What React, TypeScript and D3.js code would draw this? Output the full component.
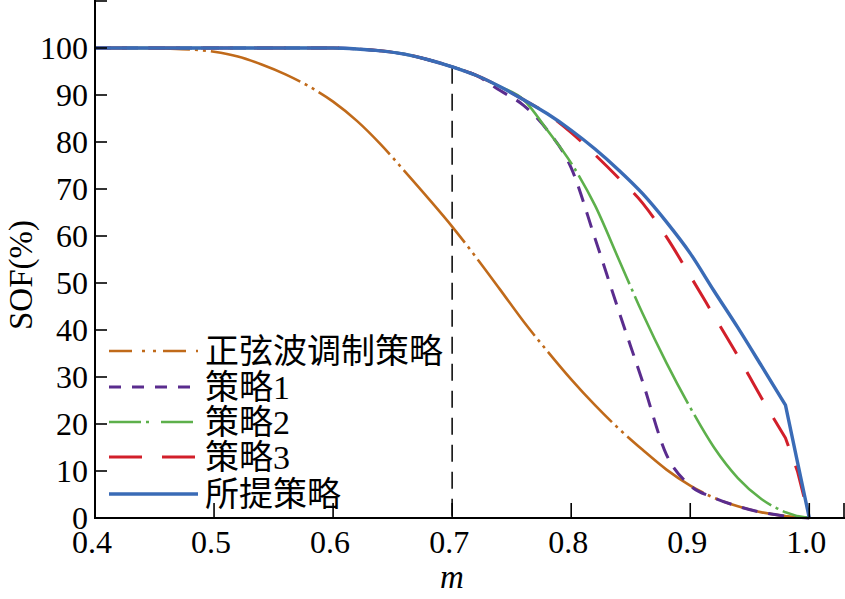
import React from "react";
import * as d3 from "d3";

const mValues = [0.40,0.42,0.44,0.46,0.48,0.50,0.52,0.54,0.56,0.58,0.60,0.62,0.64,0.66,0.68,0.70,0.72,0.74,0.76,0.78,0.80,0.82,0.84,0.86,0.88,0.90,0.92,0.94,0.96,0.98,0.99,1.00];

const sineSOF = [100,100,100,99.9,99.7,99.2,98.2,96.5,94.4,91.8,88.6,84.5,79.5,73.8,68,62,55.5,48.7,41.8,35.5,29.5,24,19,14.5,10.3,6.9,4.3,2.5,1.2,0.4,0.15,0];
const strategy1SOF = [100,100,100,100,100,100,100,100,100,100,100,99.8,99.4,98.7,97.5,96,94.2,91,87.8,82.5,74.5,59.5,44,29,13.5,6.9,4.3,2.5,1.2,0.4,0.15,0];
const strategy2SOF = [100,100,100,100,100,100,100,100,100,100,100,99.8,99.4,98.7,97.5,96,94.2,91.8,89,82.5,75.5,66.5,55,43.5,33,23.5,15,8.5,4,1.2,0.4,0];
const strategy3SOF = [100,100,100,100,100,100,100,100,100,100,100,99.8,99.4,98.7,97.5,96,94.2,91.8,89,86,82,77.3,72.3,67,59.8,51.5,43,34.5,25.5,17,10,0];
const proposedSOF = [100,100,100,100,100,100,100,100,100,100,100,99.8,99.4,98.7,97.5,96,94.2,91.8,89,86,82.5,78.5,74,69,63,56.3,48.3,40.5,32.3,24,12,0];

const seriesNames = ["正弦波调制策略", "策略1", "策略2", "策略3", "所提策略"];
const xTicks = [0.4, 0.5, 0.6, 0.7, 0.8, 0.9, 1.0];
const xTickLabels = ["0.4", "0.5", "0.6", "0.7", "0.8", "0.9", "1.0"];
const yTicks = [0, 10, 20, 30, 40, 50, 60, 70, 80, 90, 100, 110];
const yTickLabels = ["0", "10", "20", "30", "40", "50", "60", "70", "80", "90", "100", ""];
const markerM = 0.7;
const smoothUntil = 0.98;

const W = 845, H = 599;
const FONT = "'Liberation Serif', 'Times New Roman', 'Noto Sans CJK SC', serif";

export default function App() {
  const x = d3.scaleLinear().domain([0.4, 1.03]).range([95, 845]);
  const y = d3.scaleLinear().domain([0, 110]).range([518, 1]);
  const smoothLine = d3.line<[number, number]>()
    .x(d => x(d[0]))
    .y(d => y(d[1]))
    .curve(d3.curveMonotoneX);

  const pathFor = (vals: number[]) => {
    const pts = mValues.map((m, j) => [m, vals[j]] as [number, number]);
    const smooth = pts.filter(p => p[0] <= smoothUntil + 1e-9);
    const tail = pts.filter(p => p[0] > smoothUntil + 1e-9);
    let d = smoothLine(smooth) || "";
    tail.forEach(p => { d += `L${x(p[0])},${y(p[1])}`; });
    return d;
  };

  const seriesValues = [sineSOF, strategy1SOF, strategy2SOF, strategy3SOF, proposedSOF];
  const styles = [
    { color: "#C06A1A", width: 2.6, dash: "95,5,3,5,3,5", legendDash: "23,10,3,8,3,7" },
    { color: "#5A2C8E", width: 3, dash: "16,11", legendDash: "12,11" },
    { color: "#5DB04B", width: 2.6, dash: "120,5,3,5", legendDash: "32,5,3,12" },
    { color: "#D21F2A", width: 3, dash: "32,21", legendDash: "33,20" },
    { color: "#3A6BB6", width: 3.4, dash: "none", legendDash: "none" },
  ];

  const markerY = proposedSOF[mValues.indexOf(markerM)];
  const legendRows = [351, 387, 422, 457, 494];

  return (
    <svg width={W} height={H} style={{ position: "absolute", left: 0, top: 0, background: "#fff" }}
      fontFamily={FONT}>
      <rect x={0} y={0} width={W} height={H} fill="#fff" />
      <line x1={x(markerM)} x2={x(markerM)} y1={y(markerY)} y2={y(0)} stroke="#111" strokeWidth={1.6} strokeDasharray="17,10" />

      {seriesValues.map((vals, i) => (
        <path key={i}
          d={pathFor(vals)}
          fill="none" stroke={styles[i].color} strokeWidth={styles[i].width}
          strokeDasharray={styles[i].dash} strokeLinejoin="round" />
      ))}

      <line x1={95} x2={95} y1={0} y2={519} stroke="#000" strokeWidth={2} />
      <line x1={94} x2={845} y1={518} y2={518} stroke="#000" strokeWidth={2} />
      {yTicks.map((t, i) => (
        <g key={"y" + i}>
          <line x1={95} x2={107} y1={y(t)} y2={y(t)} stroke="#000" strokeWidth={1.6} />
          {yTickLabels[i] && (
            <text x={88} y={y(t) + 11} textAnchor="end" fontSize={32} fill="#000">{yTickLabels[i]}</text>
          )}
        </g>
      ))}
      {xTicks.map((t, i) => (
        <g key={"x" + i}>
          <line x1={x(t)} x2={x(t)} y1={518} y2={503} stroke="#000" strokeWidth={1.6} />
          <text x={x(t) - 3} y={553} textAnchor="middle" fontSize={32} fill="#000">{xTickLabels[i]}</text>
        </g>
      ))}
      <line x1={844} x2={844} y1={518} y2={503} stroke="#000" strokeWidth={1.6} />

      <text x={452} y={588} textAnchor="middle" fontSize={33} fontStyle="italic" fill="#000">m</text>
      <text transform={`translate(32,275) rotate(-90)`} textAnchor="middle" fontSize={33} fill="#000">SOF(%)</text>

      {seriesNames.map((name, i) => (
        <g key={"lg" + i}>
          <line x1={109} x2={198} y1={legendRows[i]} y2={legendRows[i]} stroke={styles[i].color}
            strokeWidth={styles[i].width} strokeDasharray={styles[i].legendDash} />
          <text x={205} y={legendRows[i] + 12} fontSize={34} fill="#000">{name}</text>
        </g>
      ))}
    </svg>
  );
}
